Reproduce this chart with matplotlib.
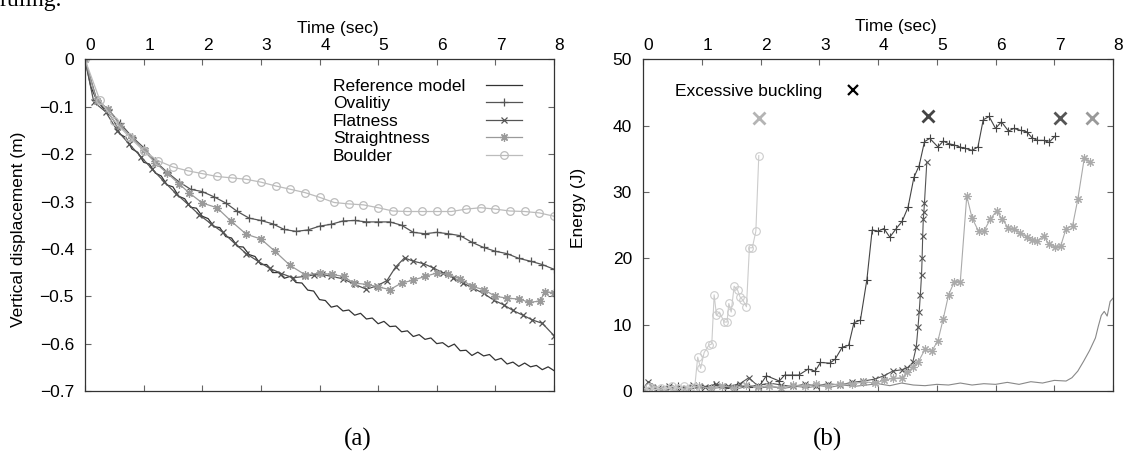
import matplotlib
matplotlib.use('Agg')
import matplotlib.pyplot as plt
from matplotlib.lines import Line2D
from matplotlib.transforms import ScaledTranslation

plt.rcParams['font.family'] = ['Liberation Sans', 'DejaVu Sans']

# ---- (a) vertical displacement ----
ref_t = [0.0, 0.1, 0.2, 0.3, 0.4, 0.5, 0.6, 0.7, 0.8, 0.9,
         1.0, 1.1, 1.2, 1.3, 1.4, 1.5, 1.6, 1.7, 1.8, 1.9,
         2.0, 2.1, 2.2, 2.3, 2.4, 2.5, 2.6, 2.7, 2.8, 2.9,
         3.0, 3.1, 3.2, 3.3, 3.4, 3.5, 3.6, 3.7, 3.8, 3.9,
         4.0, 4.1, 4.2, 4.3, 4.4, 4.5, 4.6, 4.7, 4.8, 4.9,
         5.0, 5.1, 5.2, 5.3, 5.4, 5.5, 5.6, 5.7, 5.8, 5.9,
         6.0, 6.1, 6.2, 6.3, 6.4, 6.5, 6.6, 6.7, 6.8, 6.9,
         7.0, 7.1, 7.2, 7.3, 7.4, 7.5, 7.6, 7.7, 7.8, 7.9, 8.0]
ref_v = [0.000, -0.058, -0.086, -0.101, -0.112, -0.131, -0.158, -0.165, -0.189, -0.196,
         -0.217, -0.221, -0.240, -0.246, -0.265, -0.269, -0.289, -0.294, -0.312, -0.314,
         -0.331, -0.336, -0.353, -0.355, -0.374, -0.377, -0.395, -0.396, -0.412, -0.416,
         -0.433, -0.433, -0.450, -0.450, -0.462, -0.458, -0.471, -0.472, -0.487, -0.489,
         -0.507, -0.509, -0.523, -0.520, -0.531, -0.529, -0.540, -0.536, -0.548, -0.546,
         -0.558, -0.553, -0.564, -0.563, -0.575, -0.573, -0.585, -0.581, -0.591, -0.588,
         -0.600, -0.598, -0.607, -0.601, -0.615, -0.614, -0.625, -0.618, -0.626, -0.623,
         -0.635, -0.631, -0.643, -0.639, -0.648, -0.641, -0.649, -0.646, -0.655, -0.649, -0.657]

ov_t = [0, 0.2, 0.4, 0.6, 0.8, 1.0, 1.2, 1.4, 1.6, 1.8, 2.0, 2.2, 2.4, 2.6, 2.8,
        3.0, 3.2, 3.4, 3.6, 3.8, 4.0, 4.2, 4.4, 4.6, 4.8, 5.0, 5.2, 5.4, 5.6, 5.8,
        6.0, 6.2, 6.4, 6.6, 6.8, 7.0, 7.2, 7.4, 7.6, 7.8, 8.0]
ov_v = [0, -0.085, -0.106, -0.135, -0.163, -0.186, -0.215, -0.238, -0.258, -0.274,
        -0.279, -0.290, -0.303, -0.321, -0.335, -0.340, -0.347, -0.359, -0.363, -0.360,
        -0.352, -0.348, -0.341, -0.340, -0.343, -0.343, -0.343, -0.350, -0.365, -0.368,
        -0.365, -0.368, -0.372, -0.386, -0.397, -0.405, -0.410, -0.420, -0.426, -0.433, -0.443]

fl_t = [0, 0.15, 0.35, 0.55, 0.75, 0.95, 1.15, 1.35, 1.55, 1.75, 1.95, 2.15, 2.35,
        2.55, 2.75, 2.95, 3.15, 3.35, 3.55, 3.75, 3.9, 4.05, 4.2, 4.4, 4.6, 4.8,
        4.98, 5.15, 5.3, 5.45, 5.6, 5.77, 5.94, 6.11, 6.28, 6.45, 6.62, 6.8, 6.97,
        7.14, 7.3, 7.47, 7.63, 7.8, 8.0]
fl_v = [0, -0.090, -0.110, -0.150, -0.178, -0.205, -0.232, -0.258, -0.283, -0.305,
        -0.328, -0.347, -0.365, -0.388, -0.410, -0.426, -0.441, -0.452, -0.461, -0.458,
        -0.455, -0.454, -0.458, -0.463, -0.475, -0.485, -0.478, -0.467, -0.438, -0.419,
        -0.426, -0.431, -0.440, -0.451, -0.461, -0.472, -0.483, -0.494, -0.508, -0.518,
        -0.530, -0.540, -0.550, -0.557, -0.583]

st_t = [0, 0.2, 0.4, 0.6, 0.8, 1.0, 1.2, 1.4, 1.6, 1.77, 2.0, 2.25, 2.49, 2.75, 3.0,
        3.24, 3.5, 3.76, 4.01, 4.21, 4.41, 4.58, 4.81, 5.0, 5.2, 5.4, 5.6, 5.8, 6.0,
        6.2, 6.4, 6.6, 6.8, 7.0, 7.2, 7.41, 7.58, 7.76, 7.85, 8.0]
st_v = [0, -0.088, -0.105, -0.140, -0.165, -0.192, -0.218, -0.240, -0.262, -0.281,
        -0.303, -0.313, -0.341, -0.369, -0.379, -0.405, -0.435, -0.455, -0.451, -0.454,
        -0.458, -0.472, -0.475, -0.480, -0.486, -0.472, -0.466, -0.458, -0.451, -0.454,
        -0.463, -0.479, -0.486, -0.500, -0.504, -0.506, -0.513, -0.510, -0.490, -0.493]

bo_t = [0, 0.25, 0.5, 0.75, 1.0, 1.25, 1.5, 1.75, 2.0, 2.25, 2.5, 2.75, 3.0, 3.25,
        3.5, 3.75, 4.0, 4.25, 4.5, 4.75, 5.0, 5.25, 5.5, 5.75, 6.0, 6.25, 6.5, 6.75,
        7.0, 7.25, 7.5, 7.75, 8.0]
bo_v = [0, -0.085, -0.130, -0.163, -0.193, -0.214, -0.227, -0.235, -0.241, -0.247,
        -0.250, -0.253, -0.259, -0.267, -0.274, -0.281, -0.291, -0.302, -0.305, -0.307,
        -0.313, -0.320, -0.321, -0.321, -0.321, -0.321, -0.316, -0.313, -0.316, -0.320,
        -0.321, -0.324, -0.331]

disp_labels = ['Reference model', 'Ovalitiy', 'Flatness', 'Straightness', 'Boulder']
disp_ticks = [-0.7, -0.6, -0.5, -0.4, -0.3, -0.2, -0.1, 0]
disp_tick_labels = ['\u22120.7', '\u22120.6', '\u22120.5', '\u22120.4', '\u22120.3',
                    '\u22120.2', '\u22120.1', '0']

# ---- (b) energy ----
eref_t = [0.0, 0.2, 0.4, 0.6, 0.8, 1.0, 1.2, 1.4, 1.6, 1.8, 2.0, 2.2, 2.4, 2.6, 2.8,
          3.0, 3.2, 3.4, 3.6, 3.8, 4.0, 4.2, 4.4, 4.6, 4.8, 5.0, 5.2, 5.4, 5.6, 5.8,
          6.0, 6.2, 6.4, 6.6, 6.8, 7.0, 7.2, 7.3, 7.4, 7.5, 7.6, 7.7, 7.75, 7.8, 7.85,
          7.9, 7.95, 8.0]
eref_e = [0.3, 0.6, 0.2, 0.5, 0.3, 0.7, 0.4, 0.6, 0.3, 0.8, 0.5, 0.6, 0.4, 0.7, 0.5,
          0.8, 0.6, 0.9, 0.7, 0.9, 1.1, 0.8, 1.2, 0.9, 0.8, 1.0, 0.9, 1.2, 0.9, 1.1,
          1.0, 1.3, 1.0, 1.4, 1.2, 1.6, 1.5, 2.0, 3.0, 4.5, 6.1, 8.0, 9.8, 11.4, 12.0,
          11.3, 13.5, 14.0]

eov_t = [0, 0.2, 0.4, 0.6, 0.8, 1.0, 1.2, 1.4, 1.6, 1.8, 2.0, 2.1, 2.32, 2.41, 2.53,
         2.65, 2.81, 2.93, 3.02, 3.18, 3.27, 3.39, 3.5, 3.59, 3.70, 3.81, 3.90, 4.0,
         4.1, 4.2, 4.31, 4.41, 4.51, 4.61, 4.70, 4.79, 4.88, 5.02, 5.11, 5.2, 5.3,
         5.39, 5.48, 5.6, 5.7, 5.79, 5.89, 6.0, 6.1, 6.22, 6.31, 6.43, 6.53, 6.62,
         6.71, 6.82, 6.91, 7.02]
eov_e = [0.2, 0.5, 0.3, 0.7, 0.4, 0.6, 0.9, 0.5, 0.8, 0.6, 1.0, 2.3, 1.5, 2.4, 2.4,
         2.4, 3.3, 3.0, 4.3, 4.2, 4.8, 6.6, 6.9, 10.3, 10.7, 16.8, 24.3, 24.1, 24.5,
         23.2, 24.5, 25.6, 27.7, 32.2, 34.0, 37.6, 38.1, 36.8, 37.7, 37.3, 37.1, 36.8,
         36.6, 36.3, 36.8, 40.9, 41.4, 39.6, 40.6, 39.2, 39.6, 39.3, 39.1, 38.2, 37.8,
         37.8, 37.5, 38.5]

efl_t = [0, 0.09, 0.25, 0.45, 0.65, 0.85, 1.05, 1.25, 1.45, 1.65, 1.8, 1.95, 2.15,
         2.35, 2.55, 2.75, 2.95, 3.15, 3.35, 3.55, 3.75, 3.95, 4.1, 4.25, 4.4, 4.5,
         4.59, 4.65, 4.68, 4.70, 4.72, 4.74, 4.75, 4.76, 4.77, 4.78, 4.79, 4.83]
efl_e = [0.3, 1.4, 0.4, 0.8, 0.5, 0.9, 0.6, 1.0, 0.7, 1.1, 2.0, 0.8, 1.2, 0.9, 0.7,
         1.0, 0.8, 1.1, 0.9, 1.3, 1.5, 1.8, 2.3, 3.0, 3.2, 3.5, 4.3, 6.6, 9.6, 11.9,
         14.5, 17.5, 20.0, 23.4, 25.9, 27.0, 28.4, 34.5]

est_t = [0, 0.15, 0.35, 0.55, 0.75, 0.95, 1.15, 1.35, 1.55, 1.75, 1.95, 2.15, 2.35,
         2.55, 2.75, 2.95, 3.15, 3.35, 3.55, 3.75, 3.95, 4.1, 4.25, 4.41, 4.5, 4.59,
         4.68, 4.8, 4.92, 5.02, 5.11, 5.2, 5.3, 5.4, 5.51, 5.6, 5.71, 5.8, 5.91, 6.02,
         6.11, 6.22, 6.31, 6.42, 6.53, 6.62, 6.71, 6.82, 6.91, 7.02, 7.11, 7.2, 7.31,
         7.40, 7.51, 7.6]
est_e = [0.1, 0.6, 0.2, 0.5, 0.3, 0.7, 0.4, 0.8, 0.5, 0.9, 0.6, 0.8, 0.5, 0.9, 0.7,
         1.0, 0.8, 1.1, 1.0, 1.4, 1.2, 1.6, 1.9, 2.0, 2.8, 3.6, 4.3, 6.3, 6.1, 7.6,
         10.9, 14.5, 16.5, 16.5, 29.4, 26.1, 24.1, 24.1, 25.9, 27.2, 25.9, 24.6, 24.4,
         23.9, 23.2, 22.8, 22.6, 23.4, 22.1, 21.7, 21.9, 24.5, 24.9, 28.9, 35.1, 34.6]

ebo_t = [0, 0.1, 0.2, 0.3, 0.4, 0.5, 0.6, 0.7, 0.8, 0.88, 0.93, 0.98, 1.04, 1.12,
         1.17, 1.21, 1.25, 1.30, 1.38, 1.43, 1.46, 1.50, 1.55, 1.61, 1.65, 1.70, 1.76,
         1.81, 1.86, 1.92, 1.97]
ebo_e = [0.3, 0.6, 0.2, 0.5, 0.3, 0.7, 0.4, 0.8, 0.5, 0.6, 5.1, 3.4, 5.8, 6.9, 7.1,
         14.5, 11.4, 11.9, 10.4, 10.4, 13.2, 11.9, 15.8, 15.2, 14.2, 13.7, 12.7, 21.6,
         21.6, 24.1, 35.5]

buckle_t = [1.97, 4.85, 7.10, 7.65]
buckle_e = [41.2, 41.4, 41.2, 41.2]
buckle_colors = ['#b4b4b4', '#444444', '#555555', '#999999']

time_ticks = [0, 1, 2, 3, 4, 5, 6, 7, 8]
energy_ticks = [0, 10, 20, 30, 40, 50]

FS = 12.5
fig = plt.figure(figsize=(11.26, 4.53), dpi=100)
ax1 = fig.add_axes([0.0755, 0.1369, 0.4165, 0.7318])
ax2 = fig.add_axes([0.5711, 0.1369, 0.4174, 0.7318])

# 曲线 (a)
ast = (8, 2, 0)
h_ref, = ax1.plot(ref_t, ref_v, color='#333333', lw=0.9)
h_ov, = ax1.plot(ov_t, ov_v, color='#555555', lw=0.9, marker='+', ms=6, mew=0.9)
h_fl, = ax1.plot(fl_t, fl_v, color='#555555', lw=0.9, marker='x', ms=5, mew=0.9)
h_st, = ax1.plot(st_t, st_v, color='#9a9a9a', lw=0.9, marker=ast, ms=6, mew=0.9)
h_bo, = ax1.plot(bo_t, bo_v, color='#bcbcbc', lw=0.9, marker='o', ms=5.5, mew=0.9,
                 mfc='none')

# 曲线 (b)
ax2.plot(eref_t, eref_e, color='#888888', lw=0.8)
ax2.plot(eov_t, eov_e, color='#444444', lw=0.8, marker='+', ms=6, mew=0.8)
ax2.plot(efl_t, efl_e, color='#555555', lw=0.8, marker='x', ms=5, mew=0.8)
ax2.plot(est_t, est_e, color='#aaaaaa', lw=0.8, marker=ast, ms=6, mew=0.8)
ax2.plot(ebo_t, ebo_e, color='#cccccc', lw=0.8, marker='o', ms=5.5, mew=0.8, mfc='none')
for t, e, c in zip(buckle_t, buckle_e, buckle_colors):
    ax2.plot(t, e, ls='none', marker='x', ms=8, mew=2.0, color=c)

off = ScaledTranslation(5.5 / 100, 0, fig.dpi_scale_trans)
for ax in (ax1, ax2):
    ax.set_xlim(0, 8)
    ax.xaxis.set_label_position('top')
    ax.set_xlabel('Time (sec)', fontsize=FS)
    for s in ax.spines.values():
        s.set_linewidth(0.9)
        s.set_color('#333333')
    ax.tick_params(direction='in', length=4, width=0.8, color='#666666',
                   top=True, right=True, labelbottom=False, labeltop=True,
                   labelsize=FS)
    ax.tick_params(axis='x', pad=4.5)
    ax.tick_params(axis='y', pad=8)

ax1.set_ylim(-0.7, 0)
ax1.set_yticks(disp_ticks, disp_tick_labels)
ax1.set_xticks(time_ticks)
ax1.set_ylabel('Vertical displacement (m)', fontsize=FS)
ax1.yaxis.set_label_coords(-0.126, 0.4875)
ax1.xaxis.set_label_coords(0.538, 1.08)

ax2.set_ylim(0, 50)
ax2.set_yticks(energy_ticks)
ax2.set_xticks(time_ticks)
ax2.set_ylabel('Energy (J)', fontsize=FS)
ax2.yaxis.set_label_coords(-0.1215, 0.552)
ax2.xaxis.set_label_coords(0.538, 1.085)

for ax in (ax1, ax2):
    for lab in ax.get_xticklabels():
        lab.set_transform(lab.get_transform() + off)

# 图例 (a): 文字左对齐, 线样在右侧一列
blank = [Line2D([], [], ls='none') for _ in disp_labels]
leg_txt = ax1.legend(blank, disp_labels, loc='upper left', bbox_to_anchor=(0.5288, 0.9427),
                     frameon=False, handlelength=0, handletextpad=0, borderpad=0,
                     borderaxespad=0, labelspacing=0.14, fontsize=FS)
ax1.add_artist(leg_txt)
ax1.legend([h_ref, h_ov, h_fl, h_st, h_bo], [' '] * 5, loc='upper left',
           bbox_to_anchor=(0.855, 0.9427), frameon=False, handlelength=2.07,
           handletextpad=0, borderpad=0, borderaxespad=0, labelspacing=0.14,
           fontsize=FS)

# 图例 (b)
bk = Line2D([], [], ls='none', marker='x', ms=7, mew=1.6, color='black')
ax2.legend([bk], ['Excessive buckling'], loc='upper left', bbox_to_anchor=(0.068, 0.9276),
           frameon=False, markerfirst=False, handlelength=1.0, handletextpad=1.25,
           borderpad=0, borderaxespad=0, fontsize=FS)

fig.text(357.5 / 1126, 1 - 439 / 453, '(a)', ha='center', va='center',
         fontsize=18, family='Liberation Serif')
fig.text(827.5 / 1126, 1 - 439 / 453, '(b)', ha='center', va='center',
         fontsize=18, family='Liberation Serif')
fig.text(0.0, 1 - 6 / 453, 'ruling.', ha='left', va='baseline',
         fontsize=17, family='Liberation Serif')

fig.savefig('out.png', dpi=100)
